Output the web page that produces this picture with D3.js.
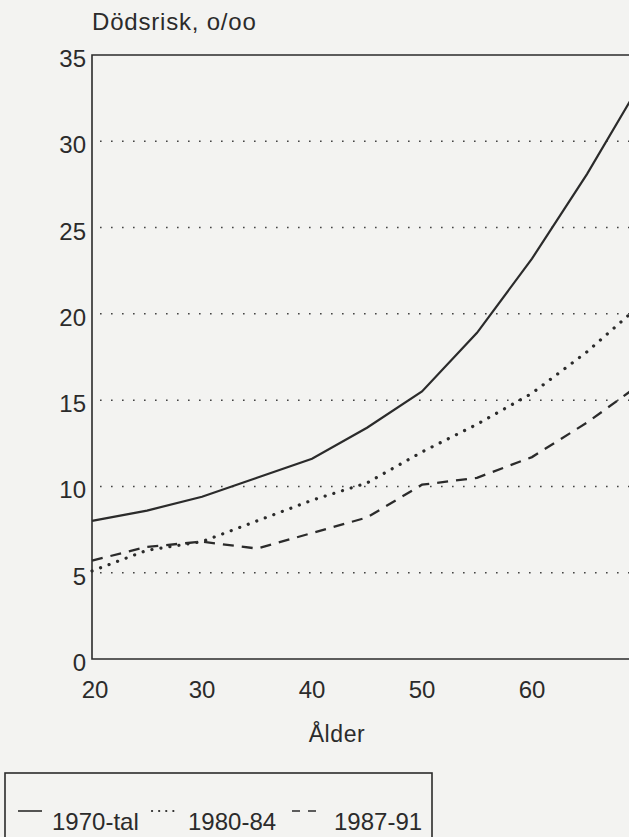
<!DOCTYPE html>
<html>
<head>
<meta charset="utf-8">
<script src="https://cdn.jsdelivr.net/npm/d3@7"></script>
<style>
  html, body { margin: 0; padding: 0; background: #f3f3f1; }
  svg { display: block; font-family: "Liberation Sans", Arial, sans-serif; }
</style>
</head>
<body>
<svg id="chart"></svg>
<script>
const ages = [20, 25, 30, 35, 40, 45, 50, 55, 60, 65, 70];
const rate1970 = [8.0, 8.6, 9.4, 10.5, 11.6, 13.4, 15.5, 18.9, 23.2, 28.1, 33.5];
const rate8084 = [5.1, 6.3, 6.8, 8.0, 9.2, 10.2, 12.0, 13.6, 15.4, 17.8, 20.6];
const rate8791 = [5.7, 6.5, 6.8, 6.4, 7.3, 8.2, 10.1, 10.5, 11.7, 13.7, 16.0];
const xTicks = [20, 30, 40, 50, 60];
const yTicks = [0, 5, 10, 15, 20, 25, 30, 35];
const seriesNames = ['1970-tal', '1980-84', '1987-91'];

const width = 629;
const height = 837;
const ink = '#2b2b2b';

const svg = d3.select('#chart').attr('width', width).attr('height', height);

const x = d3.scaleLinear().domain([20, 70]).range([92, 642]);
const y = d3.scaleLinear().domain([0, 35]).range([659, 55]);

// dotted grid
svg.append('g')
  .selectAll('line')
  .data(yTicks.filter(d => d > 0 && d < 35))
  .enter().append('line')
  .attr('x1', x(20) + 8)
  .attr('x2', width)
  .attr('y1', d => y(d))
  .attr('y2', d => y(d))
  .attr('stroke', '#444')
  .attr('stroke-width', 1.5)
  .attr('stroke-dasharray', '1.6,9.4');

// frame
svg.append('path')
  .attr('d', `M${width},${y(35)}H${x(20)}V${y(0)}H${width}`)
  .attr('fill', 'none')
  .attr('stroke', ink)
  .attr('stroke-width', 1.6);

// axes labels
svg.append('g')
  .selectAll('text')
  .data(yTicks)
  .enter().append('text')
  .attr('x', 86)
  .attr('y', d => y(d) + 12)
  .attr('text-anchor', 'end')
  .attr('font-size', 24)
  .attr('fill', ink)
  .text(d => d);

svg.append('g')
  .selectAll('text')
  .data(xTicks)
  .enter().append('text')
  .attr('x', d => x(d) + (d === 20 ? 3 : 0))
  .attr('y', 698)
  .attr('text-anchor', 'middle')
  .attr('font-size', 24)
  .attr('fill', ink)
  .text(d => d);

svg.append('text')
  .attr('x', 92)
  .attr('y', 30)
  .attr('font-size', 24)
  .attr('letter-spacing', 0.8)
  .attr('fill', ink)
  .text('Dödsrisk, o/oo');

svg.append('text')
  .attr('x', 337)
  .attr('y', 742)
  .attr('text-anchor', 'middle')
  .attr('font-size', 23)
  .attr('letter-spacing', 0.6)
  .attr('fill', ink)
  .text('Ålder');

// lines
const styles = [
  { dash: null, width: 2.2, cap: 'butt' },
  { dash: '0.1,9', width: 3.2, cap: 'round' },
  { dash: '11,8', width: 2.3, cap: 'butt' }
];
const series = [rate1970, rate8084, rate8791];

const line = d3.line()
  .x((d, i) => x(ages[i]))
  .y(d => y(d));

series.forEach((vals, k) => {
  svg.append('path')
    .datum(vals)
    .attr('d', line)
    .attr('fill', 'none')
    .attr('stroke', ink)
    .attr('stroke-width', styles[k].width)
    .attr('stroke-linecap', styles[k].cap)
    .attr('stroke-dasharray', styles[k].dash);
});

// legend
const legend = svg.append('g');
legend.append('rect')
  .attr('x', 5)
  .attr('y', 773)
  .attr('width', 427)
  .attr('height', 120)
  .attr('fill', 'none')
  .attr('stroke', ink)
  .attr('stroke-width', 1.6);

const sampleX = [18, 152, 292];
const sampleW = [24, 24, 24];
const textX = [52, 188, 334];
const legendDash = [null, '0.1,7', '8,8'];
seriesNames.forEach((name, k) => {
  legend.append('line')
    .attr('x1', sampleX[k])
    .attr('x2', sampleX[k] + sampleW[k])
    .attr('y1', 811)
    .attr('y2', 811)
    .attr('stroke', ink)
    .attr('stroke-width', k === 1 ? 2.2 : 1.6)
    .attr('stroke-linecap', k === 1 ? 'round' : 'butt')
    .attr('stroke-dasharray', legendDash[k]);
  legend.append('text')
    .attr('x', textX[k])
    .attr('y', 830)
    .attr('font-size', 24)
    .attr('fill', ink)
    .text(name);
});
</script>
</body>
</html>
